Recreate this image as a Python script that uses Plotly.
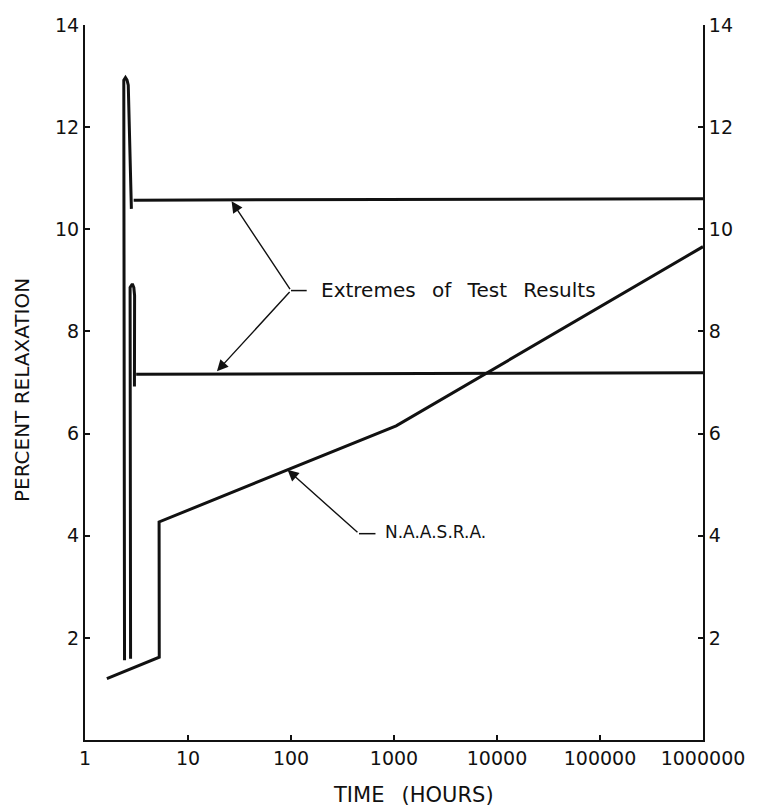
import math
import plotly.graph_objects as go

# Stress relaxation versus time (log scale), percent relaxation
upper_hours = [2.42, 2.35, 2.38, 2.47, 2.56, 2.63, 2.82, None, 2.97, 1000000]
upper_pct = [1.56, 12.80, 12.92, 12.97, 12.92, 12.82, 10.40, None, 10.57, 10.60]

lower_hours = [2.77, 2.70, 2.74, 2.88, 2.98, 3.03, 3.02, None, 3.14, 1000000]
lower_pct = [1.59, 8.70, 8.86, 8.93, 8.86, 8.70, 6.92, None, 7.16, 7.19]

naasra_hours = [1.63, 5.26, 5.24, 1050, 1000000]
naasra_pct = [1.20, 1.62, 4.27, 6.15, 9.66]

x_tickvals = [1, 10, 100, 1000, 10000, 100000, 1000000]
x_ticktext = ["1", "10", "100", "1000", "10000", "100000", "1000000"]
y_tickvals = [2, 4, 6, 8, 10, 12, 14]

# Label leaders: vertex / tips in (hours, percent)
extremes_vertex = (100, 8.80)
extremes_stub_hours = [100, 142]
extremes_stub_pct = [8.80, 8.80]
extremes_tips = [(26.5, 10.55), (19.1, 7.22)]
extremes_text_at = (186, 8.82)

naasra_tail = (457, 4.04)
naasra_stub_hours = [457, 661]
naasra_stub_pct = [4.04, 4.04]
naasra_tip = (92.5, 5.29)
naasra_text_at = (776, 4.07)

INK = "#111111"
FONT = "DejaVu Sans"

fig = go.Figure()

for hrs, pct in [(upper_hours, upper_pct), (lower_hours, lower_pct),
                 (naasra_hours, naasra_pct)]:
    fig.add_trace(go.Scatter(x=hrs, y=pct, mode="lines", connectgaps=False,
                             line=dict(color=INK, width=3),
                             hoverinfo="skip", showlegend=False))

for hrs, pct in [(extremes_stub_hours, extremes_stub_pct),
                 (naasra_stub_hours, naasra_stub_pct)]:
    fig.add_trace(go.Scatter(x=hrs, y=pct, mode="lines",
                             line=dict(color=INK, width=1.5),
                             hoverinfo="skip", showlegend=False))

# invisible trace to activate the right-hand axis
fig.add_trace(go.Scatter(x=[1], y=[0], yaxis="y2", mode="markers",
                         marker=dict(opacity=0), hoverinfo="skip",
                         showlegend=False))

annotations = []
for tip in extremes_tips:
    annotations.append(dict(
        x=math.log10(tip[0]), y=tip[1], xref="x", yref="y",
        ax=math.log10(extremes_vertex[0]), ay=extremes_vertex[1],
        axref="x", ayref="y", text="", showarrow=True,
        arrowhead=2, arrowsize=1.6, arrowwidth=1.4, arrowcolor=INK))
annotations.append(dict(
    x=math.log10(naasra_tip[0]), y=naasra_tip[1], xref="x", yref="y",
    ax=math.log10(naasra_tail[0]), ay=naasra_tail[1],
    axref="x", ayref="y", text="", showarrow=True,
    arrowhead=2, arrowsize=1.6, arrowwidth=1.4, arrowcolor=INK))

annotations.append(dict(
    x=math.log10(extremes_text_at[0]), y=extremes_text_at[1],
    xref="x", yref="y", xanchor="left", yanchor="middle", showarrow=False,
    text="Extremes\u2002\u00a0of\u2002\u00a0Test\u2002\u00a0Results",
    font=dict(family=FONT, size=20, color=INK)))
annotations.append(dict(
    x=math.log10(naasra_text_at[0]), y=naasra_text_at[1],
    xref="x", yref="y", xanchor="left", yanchor="middle", showarrow=False,
    text="N.A.A.S.R.A.", font=dict(family=FONT, size=17, color=INK)))

# axis titles
annotations.append(dict(
    x=0.532, y=-0.077, xref="paper", yref="paper", xanchor="center",
    yanchor="middle", showarrow=False, text="TIME\u2002\u00a0(HOURS)",
    font=dict(family=FONT, size=21, color=INK)))
annotations.append(dict(
    x=-0.1008, y=0.489, xref="paper", yref="paper", xanchor="center",
    yanchor="middle", showarrow=False, textangle=-90,
    text="PERCENT RELAXATION", font=dict(family=FONT, size=20, color=INK)))

axis_common = dict(showgrid=False, zeroline=False, showline=True,
                   linecolor=INK, linewidth=2, ticks="inside", ticklen=5,
                   tickwidth=1.5, tickcolor=INK,
                   tickfont=dict(family=FONT, size=19, color=INK))

fig.update_layout(
    width=766, height=811,
    margin=dict(l=85, r=63, t=25, b=71, pad=0),
    paper_bgcolor="white", plot_bgcolor="white",
    xaxis=dict(type="log", range=[0, 6], tickvals=x_tickvals,
               ticktext=x_ticktext, **axis_common),
    yaxis=dict(range=[0, 14], tickvals=y_tickvals, **axis_common),
    yaxis2=dict(range=[0, 14], tickvals=y_tickvals, overlaying="y",
                side="right", **axis_common),
    annotations=annotations,
    showlegend=False,
)

fig.write_html("out.html")
